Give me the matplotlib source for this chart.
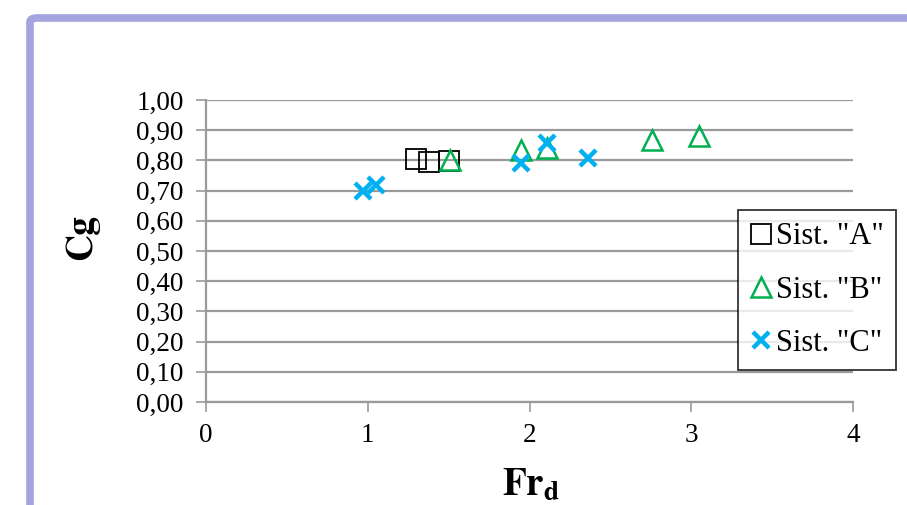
import matplotlib.pyplot as plt
from matplotlib.patches import FancyBboxPatch

# Sist. "A"
a_fr = [1.30, 1.38, 1.50]
a_cg = [0.806, 0.795, 0.797]
# Sist. "B"
b_fr = [1.51, 1.95, 2.11, 2.76, 3.05]
b_cg = [0.800, 0.834, 0.842, 0.866, 0.882]
# Sist. "C"
c_fr = [0.97, 1.05, 1.95, 2.11, 2.36]
c_cg = [0.699, 0.720, 0.790, 0.857, 0.809]

y_ticks = [i / 10 for i in range(11)]
y_labels = [f"{v:.2f}".replace(".", ",") for v in y_ticks]
x_ticks = [0, 1, 2, 3, 4]

plt.rcParams["font.family"] = ["Liberation Serif", "STIXGeneral", "DejaVu Serif"]
plt.rcParams["mathtext.fontset"] = "stix"

fig = plt.figure(figsize=(9.07, 5.05), dpi=100)

# lavender chart-area border, cut off at right and bottom
frame = FancyBboxPatch(
    (30 / 907, -0.2), 1.2, (505 - 18) / 505 + 0.2,
    boxstyle="round,pad=0,rounding_size=0.008",
    transform=fig.transFigure, fill=False,
    edgecolor="#a4a4de", linewidth=5.5, zorder=0,
)
fig.patches.append(frame)

ax = fig.add_axes([206 / 907, 1 - 402 / 505, (853 - 206) / 907, (402 - 100) / 505])
ax.set_xlim(0, 4)
ax.set_ylim(0, 1)
ax.set_yticks(y_ticks)
ax.set_yticklabels(y_labels)
ax.set_xticks(x_ticks)

ax.grid(axis="y", color="#9a9a9a", linewidth=1.6)
ax.set_axisbelow(True)
for side in ["top", "right"]:
    ax.spines[side].set_visible(False)
for side in ["left", "bottom"]:
    ax.spines[side].set_color("#9a9a9a")
    ax.spines[side].set_linewidth(1.6)
ax.tick_params(direction="out", length=7, width=1.2, color="#9a9a9a",
               labelsize=19.5, labelcolor="black")
ax.tick_params(axis="y", pad=9)
ax.tick_params(axis="x", pad=8)

ax.plot(a_fr, a_cg, linestyle="none", marker="s", markersize=14,
        markerfacecolor="none", markeredgecolor="black", markeredgewidth=1.3,
        label='Sist. "A"')
ax.plot(b_fr, b_cg, linestyle="none", marker="^", markersize=15,
        markerfacecolor="none", markeredgecolor="#00b050", markeredgewidth=1.8,
        label='Sist. "B"')
ax.plot(c_fr, c_cg, linestyle="none", marker="x", markersize=12,
        markeredgecolor="#00b0f0", markeredgewidth=3.2,
        label='Sist. "C"')

ax.set_ylabel("Cg", fontsize=27, fontweight="bold", family="STIXGeneral")
ax.yaxis.set_label_coords(-0.165, 0.545)
ax.set_xlabel(r"$\mathbf{Fr_d}$", fontsize=28)
ax.xaxis.set_label_coords(0.502, -0.215)

leg = ax.legend(
    loc="upper left", bbox_to_anchor=(738 / 907, 1 - 210 / 505),
    bbox_transform=fig.transFigure, fontsize=22, frameon=True,
    fancybox=False, edgecolor="black", handlelength=0.7,
    handletextpad=0.15, borderpad=0.4, labelspacing=0.8, borderaxespad=0,
)
leg.get_frame().set_linewidth(1.3)

fig.savefig("out.png", dpi=100)
